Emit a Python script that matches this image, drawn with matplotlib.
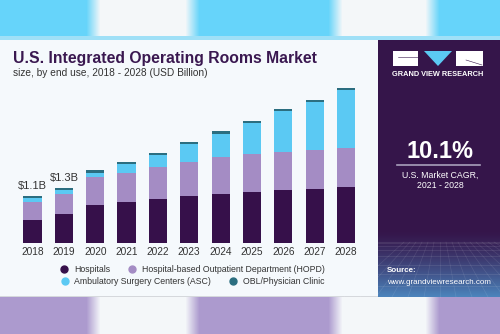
import numpy as np
import matplotlib
matplotlib.use('Agg')
from matplotlib import pyplot as plt
from matplotlib.lines import Line2D
from matplotlib.colors import to_rgb

plt.rcParams['font.family'] = ['Liberation Sans', 'DejaVu Sans']

years = ['2018', '2019', '2020', '2021', '2022', '2023', '2024', '2025', '2026', '2027', '2028']
hospitals = [0.55, 0.68, 0.90, 0.95, 1.02, 1.11, 1.14, 1.20, 1.23, 1.27, 1.30]
hopd = [0.42, 0.47, 0.65, 0.70, 0.77, 0.79, 0.87, 0.88, 0.91, 0.91, 0.93]
asc = [0.08, 0.08, 0.10, 0.19, 0.27, 0.41, 0.55, 0.72, 0.94, 1.13, 1.35]
obl = [0.04, 0.05, 0.05, 0.05, 0.05, 0.05, 0.06, 0.05, 0.05, 0.05, 0.06]
segment_names = ['Hospitals', 'Hospital-based Outpatient Department (HOPD)',
                 'Ambulatory Surgery Centers (ASC)', 'OBL/Physician Clinic']
segment_colors = ['#36104A', '#A48CC4', '#5BC9F3', '#2B6E80']
labels = {0: '$1.1B', 1: '$1.3B'}

W, H = 500, 334
fig = plt.figure(figsize=(W / 100, H / 100), dpi=100)


def px(x0, y0, x1, y1):
    # pixel box (top-left origin) -> figure fraction rect
    return [x0 / W, 1 - y1 / H, (x1 - x0) / W, (y1 - y0) / H]


# background bands with soft white glows
bg = fig.add_axes([0, 0, 1, 1], zorder=-10)
bg.set_xlim(0, W)
bg.set_ylim(H, 0)
bg.axis('off')
xs = np.arange(W)
glow = np.zeros(W)
for lo, hi in [(100, 185), (342, 425)]:
    g = np.clip(1 - np.maximum(lo - xs, xs - hi) / 14, 0, 1)
    glow = np.maximum(glow, g)
cyan = np.array(to_rgb('#66D4FA'))
lav = np.array(to_rgb('#AC9ACE'))
white = np.array([0.96, 0.97, 0.98])
top = cyan[None, :] * (1 - glow[:, None]) + white[None, :] * glow[:, None]
bot = lav[None, :] * (1 - glow[:, None]) + white[None, :] * glow[:, None]
bg.imshow(top[None, :, :], extent=[0, W, 37, 0], aspect='auto')
bg.imshow(bot[None, :, :], extent=[0, W, H, 297], aspect='auto')
bg.add_patch(plt.Rectangle((0, 36), W, 4, color='#9FE0F7', lw=0))
bg.add_patch(plt.Rectangle((0, 40), 378, 257, color='#F5F9FC', lw=0))
bg.add_patch(plt.Rectangle((0, 296), 378, 1.2, color='#D5D8DC', lw=0))

# right panel
pan = np.zeros((257, 1, 3))
purple = np.array(to_rgb('#35154A'))
blue = np.array(to_rgb('#4C86BE'))
for i in range(257):
    t = np.clip((i - 190) / 67, 0, 1) ** 1.3
    pan[i, 0] = purple * (1 - t) + blue * t
bg.imshow(pan, extent=[378, W, 297, 40], aspect='auto')
for k in range(8):
    yy = 242 + k * k * 0.9
    bg.plot([378, W], [yy, yy], color='white', alpha=0.12, lw=0.5)
for k in range(-6, 14):
    bg.plot([440 + k * 6, 440 + k * 16], [242, 297], color='white', alpha=0.1, lw=0.5)

# logo
bg.add_patch(plt.Rectangle((393, 51), 25, 15, color='white', lw=0))
bg.add_patch(plt.Polygon([[424, 51], [452, 51], [438, 66]], color='#5BC9F3', lw=0))
bg.add_patch(plt.Rectangle((456, 51), 27, 15, color='white', lw=0))
bg.plot([398, 418], [57, 57], color='#35154A', lw=0.4)
bg.plot([466, 482], [60, 65], color='#35154A', lw=0.4)
fig.text(438 / W, 1 - 74 / H, 'GRAND VIEW RESEARCH', color='white', fontsize=5.3,
         fontweight='bold', ha='center', va='center')

fig.text(440 / W, 1 - 152 / H, '10.1%', color='white', fontsize=17, fontweight='bold',
         ha='center', va='center')
bg.plot([397, 480], [165, 165], color='#A9A0BC', lw=1.2)
fig.text(440 / W, 1 - 175 / H, 'U.S. Market CAGR,', color='white', fontsize=6.3,
         ha='center', va='center')
fig.text(440 / W, 1 - 186 / H, '2021 - 2028', color='white', fontsize=6.3,
         ha='center', va='center')
fig.text(387 / W, 1 - 271 / H, 'Source:', color='white', fontsize=5.8, fontweight='bold',
         ha='left', va='center')
fig.text(387 / W, 1 - 282 / H, 'www.grandviewresearch.com', color='white', fontsize=5.8,
         ha='left', va='center')

# titles
fig.text(13 / W, 1 - 58 / H, 'U.S. Integrated Operating Rooms Market', color='#3A1850',
         fontsize=11.3, fontweight='bold', ha='left', va='center')
fig.text(13 / W, 1 - 73 / H, 'size, by end use, 2018 - 2028 (USD Billion)', color='#333333',
         fontsize=7.3, ha='left', va='center')

# bars
ax = fig.add_axes(px(13.7, 72.2, 364.8, 243))
ax.set_facecolor('none')
x = np.arange(len(years))
bottom = np.zeros(len(years))
for vals, col in zip([hospitals, hopd, asc, obl], segment_colors):
    ax.bar(x, vals, width=0.58, bottom=bottom, color=col, lw=0)
    bottom += np.array(vals)
for i, txt in labels.items():
    ax.text(x[i], bottom[i] + 0.12, txt, ha='center', va='bottom', fontsize=8, color='#333333')
ax.set_xlim(-0.6, 10.6)
ax.set_ylim(0, 4)
ax.set_xticks(x)
ax.set_xticklabels(years, fontsize=7.3, color='#333333')
ax.tick_params(axis='x', length=0, pad=3)
ax.set_yticks([])
for s in ax.spines.values():
    s.set_visible(False)

handles = [Line2D([], [], marker='o', ls='', color=c, markersize=5) for c in segment_colors]
leg_kw = dict(ncol=2, loc='center', bbox_transform=fig.transFigure, frameon=False,
              fontsize=6.3, handletextpad=0.1, columnspacing=1.5, borderpad=0,
              labelcolor='#333333')
leg1 = ax.legend(handles[:2], segment_names[:2], bbox_to_anchor=(190 / W, 1 - 270 / H), **leg_kw)
ax.add_artist(leg1)
ax.legend(handles[2:], segment_names[2:], bbox_to_anchor=(190 / W, 1 - 282 / H), **leg_kw)

fig.savefig('out.png', dpi=100)
